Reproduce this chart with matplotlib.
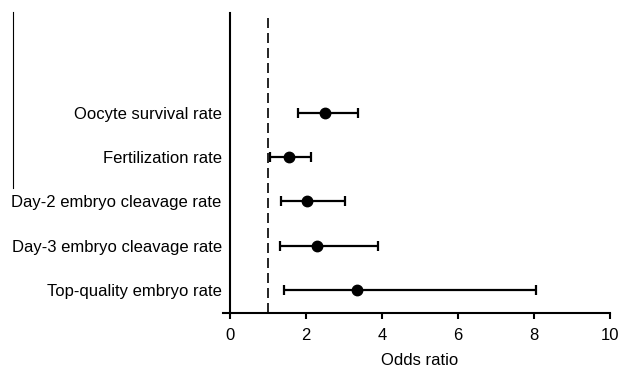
import matplotlib
matplotlib.use("Agg")
import matplotlib.pyplot as plt
from matplotlib.lines import Line2D

# forest plot values
outcomes = ["Oocyte survival rate", "Fertilization rate", "Day-2 embryo cleavage rate",
            "Day-3 embryo cleavage rate", "Top-quality embryo rate"]
odds_ratio = [2.50, 1.54, 2.03, 2.28, 3.34]
ci_low = [1.80, 1.05, 1.34, 1.32, 1.42]
ci_high = [3.36, 2.12, 3.03, 3.90, 8.05]
xticks = [0, 2, 4, 6, 8, 10]

plt.rcParams["font.family"] = ["Liberation Sans", "DejaVu Sans"]

fig = plt.figure(figsize=(6.2, 3.71), dpi=100)
ax = fig.add_axes([230 / 620, 1 - 313 / 371, 380 / 620, 300.5 / 371])

n = len(outcomes)
ypos = list(range(n - 1, -1, -1))
err_lo = [o - l for o, l in zip(odds_ratio, ci_low)]
err_hi = [h - o for o, h in zip(odds_ratio, ci_high)]

ax.errorbar(odds_ratio, ypos, xerr=[err_lo, err_hi], fmt="o", color="black",
            ecolor="black", markersize=7.5, elinewidth=1.6, capsize=3.5,
            capthick=1.6, zorder=3)
ax.axvline(1, color="black", linestyle=(0, (6, 3)), linewidth=1.2, zorder=1)

ax.set_xlim(0, 10)
ax.set_ylim(-0.52, 6.27)
ax.set_xticks(xticks)
ax.set_xticklabels([str(t) for t in xticks], fontsize=12)
ax.set_yticks(ypos)
ax.set_yticklabels(outcomes, fontsize=12)
ax.tick_params(axis="y", length=0, pad=6)
ax.tick_params(axis="x", length=4, width=1.5, pad=7)
ax.set_xlabel("Odds ratio", fontsize=12, labelpad=7)

for s in ["top", "right"]:
    ax.spines[s].set_visible(False)
for s in ["left", "bottom"]:
    ax.spines[s].set_linewidth(1.5)

# small stub left of the origin and the stray line at the far left
fig.add_artist(Line2D([223 / 620, 230 / 620], [1 - 313 / 371, 1 - 313 / 371],
                      color="black", linewidth=1.5))
fig.add_artist(Line2D([12.5 / 620, 12.5 / 620], [1 - 12 / 371, 1 - 188 / 371],
                      color="black", linewidth=0.8))

fig.savefig("out.png", dpi=100)
